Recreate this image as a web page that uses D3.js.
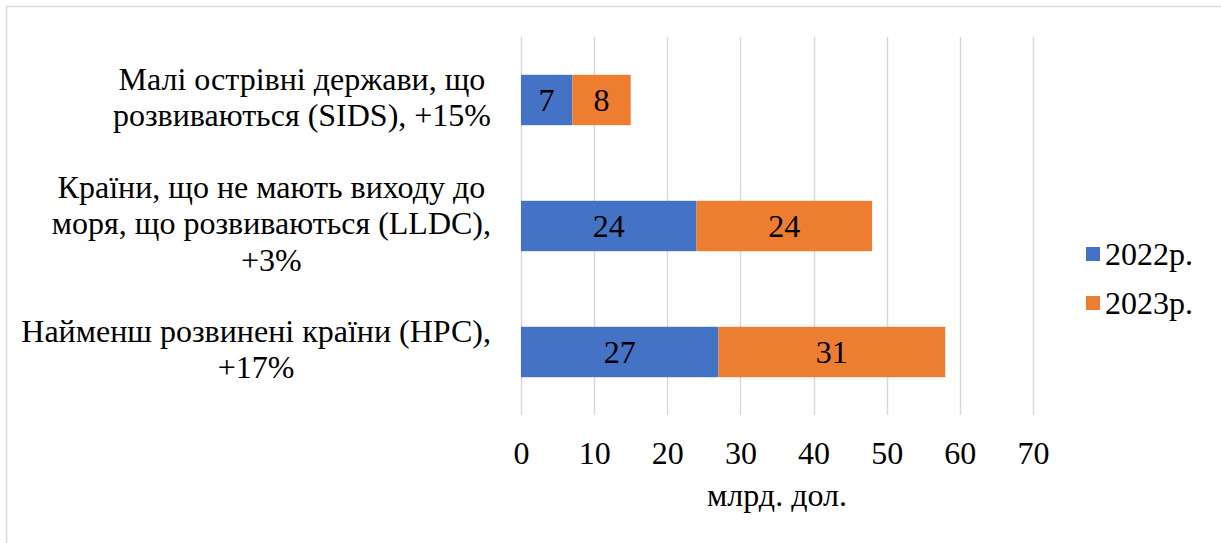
<!DOCTYPE html>
<html>
<head>
<meta charset="utf-8">
<script src="https://cdn.jsdelivr.net/npm/d3@7"></script>
</head>
<body style="margin:0;background:#fff">
<svg id="s" width="1221" height="543" style="display:block"></svg>
<script>
const categories = [
  ["Малі острівні держави, що", "розвиваються (SIDS), +15%"],
  ["Країни, що не мають виходу до", "моря, що розвиваються (LLDC),", "+3%"],
  ["Найменш розвинені країни (НРС),", "+17%"]
];
const categoryKeys = ["SIDS", "LLDC", "HPC"];
const seriesNames = ["2022р.", "2023р."];
const values2022 = [7, 24, 27];
const values2023 = [8, 24, 31];
const xTicks = [0, 10, 20, 30, 40, 50, 60, 70];
const axisTitle = "млрд. дол.";
const colors = ["#4472C4", "#ED7D31"];

const FONT = "Liberation Serif";
const fontSize = 32;
const svg = d3.select("#s");

function styleText(sel) {
  return sel.style("font-family", FONT)
    .style("font-size", fontSize + "px")
    .style("fill", "#000");
}

// outer border
svg.append("rect")
  .attr("x", 6.5).attr("y", 6.5)
  .attr("width", 1230).attr("height", 560)
  .attr("fill", "none").attr("stroke", "#d9d9d9").attr("stroke-width", 1.5);

const x = d3.scaleLinear().domain([0, 70]).range([521, 1033]);
const y = d3.scaleBand().domain(categoryKeys).range([37, 415])
  .paddingInner(0.6).paddingOuter(0.3);

// gridlines
svg.append("g").selectAll("line").data(xTicks).join("line")
  .attr("x1", d => Math.round(x(d)) + 0.5).attr("x2", d => Math.round(x(d)) + 0.5)
  .attr("y1", 37).attr("y2", 415)
  .attr("stroke", "#d9d9d9").attr("stroke-width", 1.5);

// tick labels via axis
const axis = d3.axisBottom(x).tickValues(xTicks).tickSize(0).tickPadding(0).tickFormat(d3.format("d"));
const gAxis = svg.append("g").attr("transform", "translate(0,464)").call(axis);
gAxis.select(".domain").remove();
gAxis.attr("font-family", FONT).attr("font-size", fontSize);
styleText(gAxis.selectAll("text"))
  .attr("dy", null).attr("y", 0);

// axis title
styleText(svg.append("text"))
  .attr("x", (x(0) + x(70)) / 2).attr("y", 506)
  .attr("text-anchor", "middle")
  .text(axisTitle);

// stacked data
const rows = categoryKeys.map((k, i) => ({ key: k, s0: values2022[i], s1: values2023[i] }));
const stacked = d3.stack().keys(["s0", "s1"])(rows);

const gBars = svg.append("g");
stacked.forEach((layer, li) => {
  const g = gBars.append("g");
  g.selectAll("rect").data(layer).join("rect")
    .attr("x", d => x(d[0])).attr("width", d => x(d[1]) - x(d[0]))
    .attr("y", d => y(d.data.key)).attr("height", y.bandwidth())
    .attr("fill", colors[li]);
  styleText(g.selectAll("text").data(layer).join("text"))
    .attr("x", d => (x(d[0]) + x(d[1])) / 2)
    .attr("y", d => y(d.data.key) + y.bandwidth() / 2 + 11)
    .attr("text-anchor", "middle")
    .text(d => d[1] - d[0]);
});

// category labels
const lineH = 36.5;
const labelRight = 491;
categoryKeys.forEach((k, i) => {
  const lines = categories[i];
  const cy = y(k) + y.bandwidth() / 2 + 8;
  const g = svg.append("g");
  const texts = lines.map((ln, j) => styleText(g.append("text"))
    .attr("text-anchor", "middle")
    .attr("y", cy + (j - (lines.length - 1) / 2) * lineH)
    .text(ln));
  const maxW = d3.max(texts, t => t.node().getComputedTextLength());
  texts.forEach(t => t.attr("x", labelRight - maxW / 2));
});

// legend
const legendY = [254, 303];
seriesNames.forEach((s, i) => {
  svg.append("rect")
    .attr("x", 1086).attr("y", legendY[i] - 7)
    .attr("width", 14).attr("height", 14)
    .attr("fill", colors[i]);
  styleText(svg.append("text"))
    .attr("x", 1105).attr("y", legendY[i] + 11)
    .text(s);
});
</script>
</body>
</html>
